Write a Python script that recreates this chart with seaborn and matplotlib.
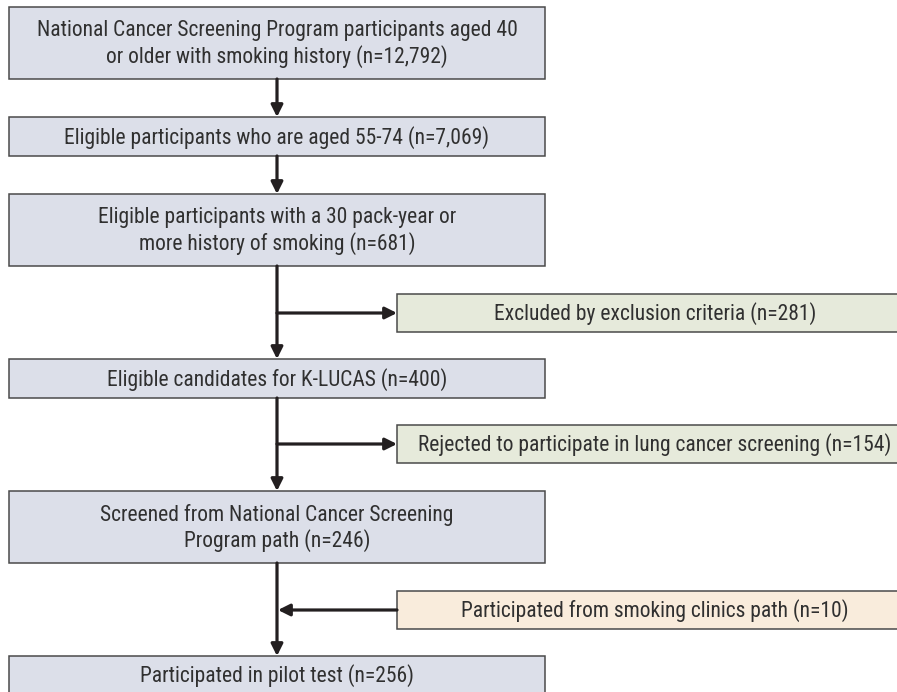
import matplotlib
matplotlib.use("Agg")
import matplotlib.pyplot as plt
from matplotlib import font_manager
from matplotlib.patches import Rectangle
import seaborn as sns

# flowchart content
main_labels = [
    "National Cancer Screening Program participants aged 40\nor older with smoking history (n=12,792)",
    "Eligible participants who are aged 55-74 (n=7,069)",
    "Eligible participants with a 30 pack-year or\nmore history of smoking (n=681)",
    "Eligible candidates for K-LUCAS (n=400)",
    "Screened from National Cancer Screening\nProgram path (n=246)",
    "Participated in pilot test (n=256)",
]
side_labels = [
    "Excluded by exclusion criteria (n=281)",
    "Rejected to participate in lung cancer screening (n=154)",
    "Participated from smoking clinics path (n=10)",
]
side_kind = ["out", "out", "in"]

# layout (pixels, y down)
main_top = [7, 117, 194, 359, 491, 656]
main_bot = [79, 156, 266, 398, 563, 694]
main_x0, main_x1 = 9, 545
side_top = [294, 425, 591]
side_bot = [332, 463, 629]
side_x0, side_x1 = 397, 913
trunk_x = 277

main_fill = "#dcdfe9"
side_fill = {"out": "#e6eadb", "in": "#f9ecdc"}
edge = "#4a4a4a"
ink = "#231f20"
text_col = "#303030"

sns.set_theme(style="white")
available = {f.name for f in font_manager.fontManager.ttflist}
for fam in ["Liberation Sans Narrow", "Roboto Condensed", "Open Sans Condensed", "Liberation Sans"]:
    if fam in available:
        chosen = fam
        break
else:
    chosen = "DejaVu Sans"
plt.rcParams["font.family"] = [chosen, "DejaVu Sans"]

fig = plt.figure(figsize=(8.97, 6.92), dpi=100)
ax = fig.add_axes([0, 0, 1, 1])
ax.set_xlim(0, 897)
ax.set_ylim(692, 0)
ax.axis("off")

for lab, t, b in zip(main_labels, main_top, main_bot):
    ax.add_patch(Rectangle((main_x0, t), main_x1 - main_x0, b - t,
                           facecolor=main_fill, edgecolor=edge, lw=1.1))
    ax.text((main_x0 + main_x1) / 2, (t + b) / 2 + 1, lab, ha="center", va="center",
            fontsize=15.5, color=text_col, linespacing=1.2)

for lab, t, b, k in zip(side_labels, side_top, side_bot, side_kind):
    ax.add_patch(Rectangle((side_x0, t), side_x1 - side_x0, b - t,
                           facecolor=side_fill[k], edgecolor=edge, lw=1.1))
    ax.text((side_x0 + side_x1) / 2, (t + b) / 2 + 1, lab, ha="center", va="center",
            fontsize=15.5, color=text_col)

arrow = dict(arrowstyle="-|>,head_length=0.7,head_width=0.35", lw=2.3, color=ink,
             shrinkA=0, shrinkB=0, mutation_scale=10)

# trunk arrows between consecutive main boxes
for i in range(len(main_labels) - 1):
    ax.annotate("", xy=(trunk_x, main_top[i + 1]), xytext=(trunk_x, main_bot[i]),
                arrowprops=arrow)

# side branches
for t, b, k in zip(side_top, side_bot, side_kind):
    yc = (t + b) / 2
    if k == "out":
        ax.annotate("", xy=(side_x0, yc), xytext=(trunk_x, yc), arrowprops=arrow)
    else:
        ax.annotate("", xy=(trunk_x + 1, yc), xytext=(side_x0, yc), arrowprops=arrow)

fig.savefig("out.png", dpi=100)
